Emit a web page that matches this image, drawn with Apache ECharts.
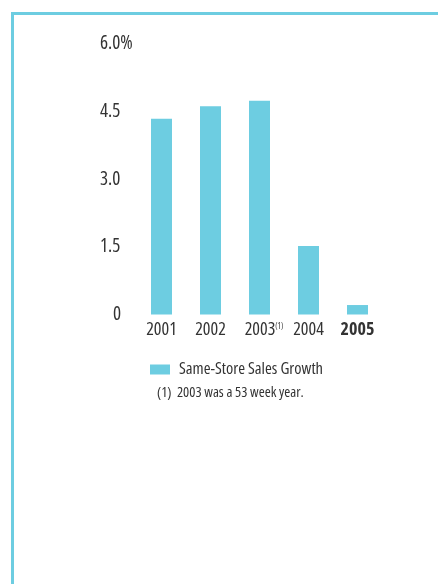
<!DOCTYPE html>
<html>
<head>
<meta charset="utf-8">
<script src="https://cdn.jsdelivr.net/npm/echarts@6/dist/echarts.min.js"></script>
<style>
html,body{margin:0;padding:0;background:#fff;}
#chart{width:438px;height:584px;}
</style>
</head>
<body>
<div id="chart"></div>
<script>
var categories = ['2001', '2002', '2003', '2004', '2005'];
var salesGrowth = [4.34, 4.62, 4.74, 1.52, 0.21];
var seriesName = 'Same-Store Sales Growth';
var footnote = '(1)  2003 was a 53 week year.';
var yMin = 0, yMax = 6, yStep = 1.5;

var FONT = '"Open Sans", "DejaVu Sans", sans-serif';
var STRETCH = 'condensed';
var BLUE = '#6dcde1';
var TXT = '#333333';

var chart = echarts.init(document.getElementById('chart'), null, {renderer: 'canvas'});
chart.setOption({
  animation: false,
  backgroundColor: '#fff',
  grid: {left: 137, right: 56, top: 44, bottom: 269.5},
  legend: {
    data: [seriesName],
    left: 150, top: 361, padding: 0,
    icon: 'rect', itemWidth: 20, itemHeight: 10,
    textStyle: {fontFamily: FONT, fontStyle: STRETCH, fontSize: 16.5, color: TXT, padding: [0, 0, 0, 4]}
  },
  xAxis: {
    type: 'category',
    data: categories,
    axisLine: {show: false}, axisTick: {show: false},
    axisLabel: {
      interval: 0,
      margin: 6,
      fontFamily: FONT, fontStyle: STRETCH, fontSize: 18, color: TXT,
      formatter: function (v) {
        if (v === '2003') return '{m|2003}{s|(1)}';
        if (v === '2005') return '{b|2005}';
        return '{n|' + v + '}';
      },
      rich: {
        n: {fontFamily: FONT, fontStyle: STRETCH, fontSize: 18, color: TXT},
        m: {fontFamily: FONT, fontStyle: STRETCH, fontSize: 18, color: TXT, padding: [0, 0, 0, 9]},
        b: {fontFamily: FONT, fontStyle: STRETCH, fontSize: 18, color: TXT, fontWeight: 'bold'},
        s: {fontFamily: FONT, fontStyle: STRETCH, fontSize: 8, color: TXT, verticalAlign: 'middle', padding: [0, 0, 6, 0]}
      }
    }
  },
  yAxis: {
    type: 'value', min: yMin, max: yMax, interval: yStep,
    axisLine: {show: false}, axisTick: {show: false}, splitLine: {show: false},
    axisLabel: {
      margin: 37,
      align: 'left',
      formatter: function (v) {
        if (v === 0) return '{z|0}';
        if (v === yMax) return '{n|' + v.toFixed(1) + '%}';
        return '{n|' + v.toFixed(1) + '}';
      },
      rich: {
        n: {fontFamily: FONT, fontStyle: STRETCH, fontSize: 19, color: TXT},
        z: {fontFamily: FONT, fontStyle: STRETCH, fontSize: 19, color: TXT, padding: [0, 0, 0, 13]}
      }
    }
  },
  graphic: [
    {type: 'rect', shape: {x: 12, y: 12, width: 426, height: 3}, style: {fill: BLUE}},
    {type: 'rect', shape: {x: 11, y: 12, width: 3, height: 572}, style: {fill: BLUE}},
    {type: 'text', left: 157, top: 385, style: {text: footnote, font: STRETCH + ' normal 14.5px ' + FONT, fill: TXT}}
  ],
  series: [{
    name: seriesName,
    type: 'bar',
    data: salesGrowth,
    barWidth: 21,
    itemStyle: {color: BLUE}
  }]
});
</script>
</body>
</html>
